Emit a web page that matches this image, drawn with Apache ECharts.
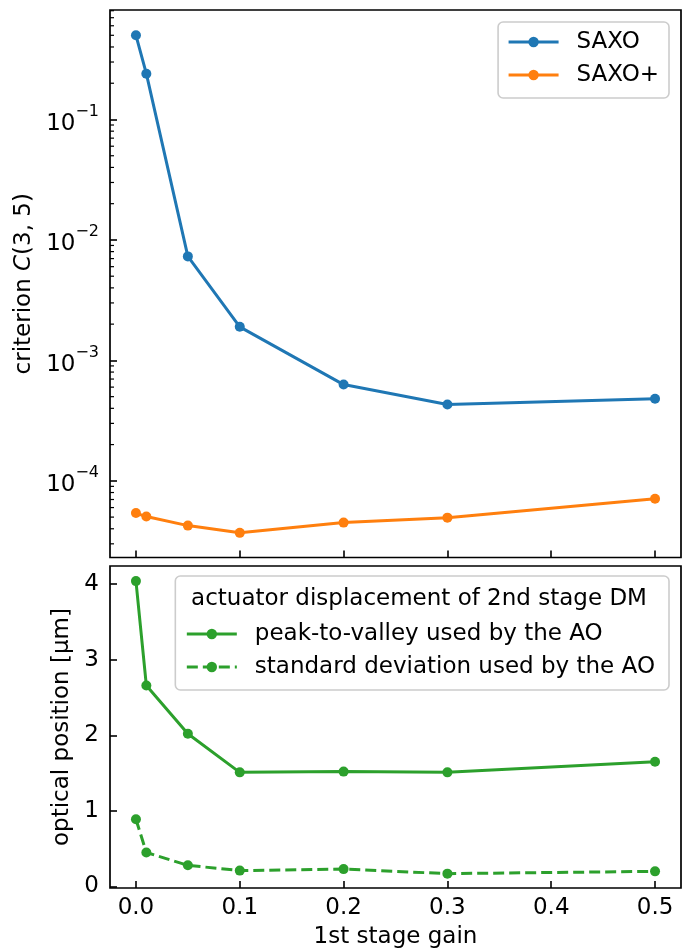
<!DOCTYPE html>
<html>
<head>
<meta charset="utf-8">
<script src="https://cdn.jsdelivr.net/npm/echarts@6/dist/echarts.min.js"></script>
<style>
  html, body { margin: 0; padding: 0; background: #fff; }
  #chart { width: 687px; height: 951px; }
</style>
</head>
<body>
<div id="chart"></div>
<script>
// 1st stage gain values shared by both panels
const gains = [0, 0.01, 0.05, 0.1, 0.2, 0.3, 0.5];

// criterion C(3,5)
const saxo     = [0.50, 0.24, 0.0073, 0.0019, 6.3e-4, 4.3e-4, 4.8e-4];
const saxoPlus = [5.4e-5, 5.05e-5, 4.25e-5, 3.7e-5, 4.5e-5, 4.95e-5, 7.1e-5];

// actuator displacement of the 2nd stage DM [µm]
const peakToValley = [4.04, 2.66, 2.02, 1.51, 1.52, 1.51, 1.65];
const stdDev       = [0.89, 0.45, 0.28, 0.21, 0.23, 0.17, 0.20];

// axis ranges and tick positions
const xRange = [-0.025, 0.525];
const logRange = [2.31e-5, 0.811];
const linRange = [-0.02, 4.24];
const xTicks = [0, 0.1, 0.2, 0.3, 0.4, 0.5];
const logMajorTicks = [1e-4, 1e-3, 1e-2, 1e-1];
const linTicks = [0, 1, 2, 3, 4];
const logMinorTicks = [];
[1e-5, 1e-4, 1e-3, 1e-2, 1e-1].forEach(d => {
  for (let m = 2; m <= 9; m++) {
    const v = +(m * d).toPrecision(3);
    if (v > logRange[0] && v < logRange[1]) logMinorTicks.push(v);
  }
});

const FONT = 'DejaVu Sans';
const FS = 23;
const BLUE = '#1f77b4', ORANGE = '#ff7f0e', GREEN = '#2ca02c';
const pairs = ys => gains.map((g, i) => [g, ys[i]]);

const tickStyle = { color: '#000', width: 1.6 };
const noLine = { show: false, onZero: false };
const gridBox = { show: true, borderColor: '#000', borderWidth: 1.7, backgroundColor: 'transparent' };

const lineSeries = (name, ys, color, xi, yi, dashed) => ({
  name, type: 'line', data: pairs(ys), xAxisIndex: xi, yAxisIndex: yi,
  symbol: 'circle', symbolSize: 10, showSymbol: true,
  itemStyle: { color },
  lineStyle: { color, width: 3, type: dashed ? [11, 5] : 'solid' },
  emphasis: { disabled: true }, z: 3
});

const legendCommon = {
  orient: 'vertical', right: 18, itemWidth: 50, itemHeight: 13, itemGap: 9,
  borderColor: '#cccccc', borderWidth: 1.6, borderRadius: 5,
  backgroundColor: 'rgba(255,255,255,0.8)',
  lineStyle: { width: 3 },
  textStyle: { fontFamily: FONT, fontSize: FS, color: '#000', lineHeight: 24, padding: [0, 0, 0, 13] }
};

const chart = echarts.init(document.getElementById('chart'), null, { renderer: 'canvas' });
chart.setOption({
  animation: false,
  backgroundColor: '#fff',
  textStyle: { fontFamily: FONT },
  grid: [
    Object.assign({ left: 110, top: 10, width: 571, height: 547.5 }, gridBox),
    Object.assign({ left: 110, top: 566, width: 571, height: 322 }, gridBox)
  ],
  xAxis: [
    {
      gridIndex: 0, type: 'value', min: xRange[0], max: xRange[1], position: 'bottom',
      axisLine: noLine, splitLine: { show: false },
      axisTick: { inside: true, length: 7, customValues: xTicks, lineStyle: tickStyle },
      axisLabel: { show: false }
    },
    {
      gridIndex: 1, type: 'value', min: xRange[0], max: xRange[1], position: 'bottom',
      axisLine: noLine, splitLine: { show: false },
      axisTick: { inside: true, length: 7, customValues: xTicks, lineStyle: tickStyle },
      axisLabel: { customValues: xTicks, formatter: v => v.toFixed(1), fontFamily: FONT, fontSize: FS, color: '#000', margin: 9 },
      name: '1st stage gain', nameLocation: 'middle', nameGap: 38,
      nameTextStyle: { fontFamily: FONT, fontSize: FS, color: '#000' }
    }
  ],
  yAxis: [
    {
      gridIndex: 0, type: 'log', logBase: 10, min: logRange[0], max: logRange[1], position: 'left',
      axisLine: noLine, splitLine: { show: false }, minorTick: { show: false },
      axisTick: { inside: true, length: 7, customValues: logMajorTicks, lineStyle: tickStyle },
      axisLabel: {
        customValues: logMajorTicks, margin: 11, color: '#000',
        formatter: v => '{b|10}{s|\u2212' + Math.round(-Math.log10(v)) + '}',
        rich: {
          b: { fontFamily: FONT, fontSize: FS, color: '#000', lineHeight: 32, verticalAlign: 'bottom' },
          s: { fontFamily: FONT, fontSize: 16, color: '#000', lineHeight: 17, verticalAlign: 'top' }
        }
      },
      name: '{n|criterion }{i|C}{n|(3, 5)}', nameLocation: 'middle', nameGap: 73, nameRotate: 90,
      nameTextStyle: {
        rich: {
          n: { fontFamily: FONT, fontSize: FS, color: '#000' },
          i: { fontFamily: FONT, fontSize: FS, color: '#000', fontStyle: 'italic' }
        }
      }
    },
    {
      gridIndex: 1, type: 'value', min: linRange[0], max: linRange[1], position: 'left',
      axisLine: noLine, splitLine: { show: false },
      axisTick: { inside: true, length: 7, customValues: linTicks, lineStyle: tickStyle },
      axisLabel: { customValues: linTicks, fontFamily: FONT, fontSize: FS, color: '#000', margin: 11 },
      name: 'optical position [µm]', nameLocation: 'middle', nameGap: 32, nameRotate: 90,
      nameTextStyle: { fontFamily: FONT, fontSize: FS, color: '#000' }
    }
  ],
  legend: [
    Object.assign({}, legendCommon, {
      top: 22, padding: [8, 10, 11, 9],
      data: ['SAXO', 'SAXO+']
    }),
    Object.assign({}, legendCommon, {
      top: 576, padding: [46, 14, 11, 10],
      data: ['peak-to-valley used by the AO', 'standard deviation used by the AO']
    })
  ],
  graphic: [{
    type: 'text', x: 419, y: 599, z: 200,
    style: { text: 'actuator displacement of 2nd stage DM', fontFamily: FONT, fontSize: FS, fill: '#000', textAlign: 'center', textVerticalAlign: 'middle' }
  }],
  series: [
    // minor ticks of the log axis, placed through the axis scale
    {
      type: 'custom', xAxisIndex: 0, yAxisIndex: 0, silent: true, z: 1,
      data: logMinorTicks.map(v => [xRange[0], v]),
      renderItem: (params, api) => {
        const p = api.coord([api.value(0), api.value(1)]);
        const left = params.coordSys.x;
        return {
          type: 'line',
          shape: { x1: left, y1: p[1], x2: left + 4, y2: p[1] },
          style: { stroke: '#000', lineWidth: 1.2 }
        };
      }
    },
    lineSeries('SAXO', saxo, BLUE, 0, 0, false),
    lineSeries('SAXO+', saxoPlus, ORANGE, 0, 0, false),
    lineSeries('peak-to-valley used by the AO', peakToValley, GREEN, 1, 1, false),
    lineSeries('standard deviation used by the AO', stdDev, GREEN, 1, 1, true)
  ]
});
</script>
</body>
</html>
